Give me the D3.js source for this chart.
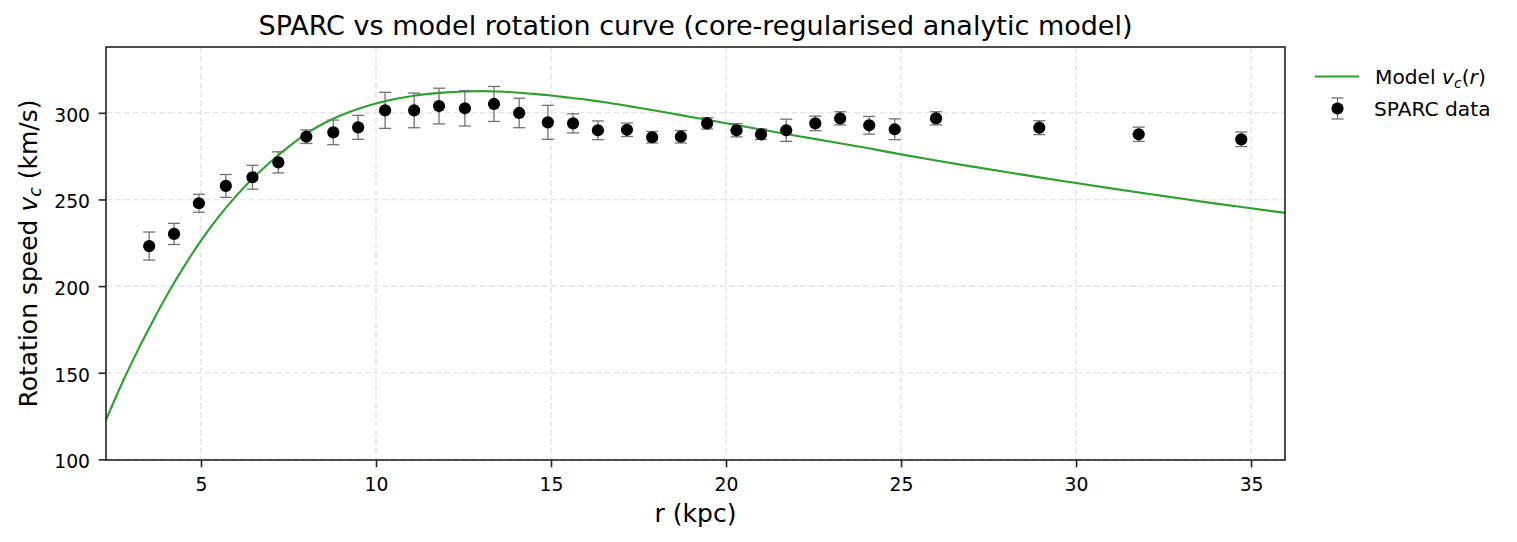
<!DOCTYPE html>
<html><head><meta charset="utf-8">
<script src="https://cdn.jsdelivr.net/npm/d3@7"></script>
<style>
html,body{margin:0;padding:0;background:#fff;}
text{font-family:"DejaVu Sans",sans-serif;fill:#000;}
</style></head>
<body>
<svg id="chart" width="1517" height="542"></svg>
<script>
// SPARC data
const dataR = [3.52,4.23,4.94,5.71,6.47,7.21,8.01,8.78,9.49,10.26,11.09,11.8,12.54,13.37,14.09,14.91,15.63,16.34,17.17,17.89,18.71,19.46,20.3,21.0,21.72,22.55,23.26,24.09,24.82,26.0,28.95,31.79,34.72];
const dataV = [223.1,230.1,247.8,257.8,262.8,271.4,286.2,288.7,291.6,301.4,301.4,303.9,302.6,305.1,299.9,294.5,293.9,289.9,290.2,285.9,286.2,293.9,289.9,287.6,289.9,293.9,296.8,292.8,290.5,296.8,291.4,287.6,284.7];
const dataErr = [8.1,6.1,5.2,6.6,6.9,6.1,3.9,7.1,6.9,10.4,10.0,10.3,10.2,10.1,8.5,9.8,5.5,5.4,3.9,3.3,3.6,3.3,3.8,3.0,6.4,4.2,3.8,5.1,6.0,3.8,4.0,4.1,4.2];
// Model curve samples
const modelR = [2.29,2.8,3.2,3.6,4.07,4.5,5.0,5.5,6.0,6.47,7.0,7.5,8.0,8.5,9.0,9.5,10.0,10.5,11.0,11.5,12.0,12.5,13.0,13.5,14.0,14.5,15.0,15.5,16.0,16.5,17.0,17.5,18.0,18.5,19.0,19.5,20.0,21.0,22.0,23.0,24.0,25.0,26.0,27.0,28.0,29.0,30.0,31.0,32.0,33.0,34.0,35.0,36.0];
const modelV = [123,146.4,163.2,178.9,196.3,210.8,226.2,239.9,251.9,261.9,271.9,280.3,287.8,293.8,298.6,302.4,305.4,307.8,309.6,310.9,311.8,312.3,312.5,312.3,311.7,310.9,310.0,308.8,307.6,306.2,304.6,302.9,301.2,299.4,297.6,295.8,294.0,290.4,286.8,283.3,279.8,276.0,272.5,269.1,265.8,262.6,259.5,256.4,253.4,250.5,247.6,244.9,242.2];
const xTicks = [5,10,15,20,25,30,35];
const yTicks = [100,150,200,250,300];

const svg = d3.select("#chart");
const L = 106, T = 47, R = 1285, B = 460;
const x = d3.scaleLinear().domain([2.286, 35.97]).range([L, R]);
const y = d3.scaleLinear().domain([99.65, 337.97]).range([B, T]);

svg.append("rect").attr("width",1517).attr("height",542).attr("fill","#fff");

svg.append("defs").append("clipPath").attr("id","clip")
  .append("rect").attr("x",L).attr("y",T).attr("width",R-L).attr("height",B-T);

// grid
const grid = svg.append("g");
grid.selectAll("line.gx").data(xTicks).join("line")
  .attr("x1",d=>x(d)).attr("x2",d=>x(d)).attr("y1",T).attr("y2",B)
  .attr("stroke","#e8e8e8").attr("stroke-width",1.6).attr("stroke-dasharray","6.2,2.7");
grid.selectAll("line.gy").data(yTicks).join("line")
  .attr("y1",d=>y(d)).attr("y2",d=>y(d)).attr("x1",L).attr("x2",R)
  .attr("stroke","#e8e8e8").attr("stroke-width",1.6).attr("stroke-dasharray","6.2,2.7");

// axes
const xAxis = d3.axisBottom(x).tickValues(xTicks).tickSize(7.3).tickPadding(7).tickFormat(d3.format("d"));
const yAxis = d3.axisLeft(y).tickValues(yTicks).tickSize(7.3).tickPadding(7).tickFormat(d3.format("d"));
const gx = svg.append("g").attr("transform",`translate(0,${B})`).call(xAxis);
const gy = svg.append("g").attr("transform",`translate(${L},0)`).call(yAxis);
[gx,gy].forEach(g=>{
  g.select(".domain").remove();
  g.selectAll(".tick line").attr("stroke","#222").attr("stroke-width",1.6);
  g.selectAll(".tick text").attr("font-size","18.75px").attr("font-family","DejaVu Sans").attr("fill","#000");
});
gx.selectAll(".tick text").attr("dy",null).attr("y",31);
gy.selectAll(".tick text").attr("dy",null).attr("y",8.5).attr("x",-16);

// model curve
svg.append("path").datum(modelR.map((r,i)=>[r,modelV[i]]))
  .attr("clip-path","url(#clip)")
  .attr("fill","none").attr("stroke","#2ca02c").attr("stroke-width",2.1)
  .attr("d", d3.line().x(d=>x(d[0])).y(d=>y(d[1])).curve(d3.curveMonotoneX));

// error bars + points
const pts = dataR.map((r,i)=>({r, v:dataV[i], e:dataErr[i]}));
const eb = svg.append("g").attr("stroke","#727272").attr("stroke-width",1.3);
eb.selectAll("line.v").data(pts).join("line")
  .attr("x1",d=>x(d.r)).attr("x2",d=>x(d.r)).attr("y1",d=>y(d.v-d.e)).attr("y2",d=>y(d.v+d.e));
eb.selectAll("line.t").data(pts).join("line")
  .attr("x1",d=>x(d.r)-6).attr("x2",d=>x(d.r)+6).attr("y1",d=>y(d.v+d.e)).attr("y2",d=>y(d.v+d.e));
eb.selectAll("line.b").data(pts).join("line")
  .attr("x1",d=>x(d.r)-6).attr("x2",d=>x(d.r)+6).attr("y1",d=>y(d.v-d.e)).attr("y2",d=>y(d.v-d.e));
svg.append("g").selectAll("circle").data(pts).join("circle")
  .attr("cx",d=>x(d.r)).attr("cy",d=>y(d.v)).attr("r",6.1).attr("fill","#000");

// frame
svg.append("rect").attr("x",L).attr("y",T).attr("width",R-L).attr("height",B-T)
  .attr("fill","none").attr("stroke","#222").attr("stroke-width",1.6);

// title
svg.append("text").attr("x",(L+R)/2).attr("y",34.5).attr("text-anchor","middle")
  .attr("font-size","27px").text("SPARC vs model rotation curve (core-regularised analytic model)");

// x label
svg.append("text").attr("x",(L+R)/2).attr("y",522).attr("text-anchor","middle")
  .attr("font-size","25px").text("r (kpc)");

// y label
const yl = svg.append("text").attr("transform",`translate(37,${(T+B)/2}) rotate(-90)`)
  .attr("text-anchor","middle").attr("font-size","25px");
yl.append("tspan").text("Rotation speed ");
yl.append("tspan").attr("font-style","italic").text("v");
yl.append("tspan").attr("font-style","italic").attr("font-size","17.5px").attr("dy",4).text("c");
yl.append("tspan").attr("dy",-4).text(" (km/s)");

// legend
const lg = svg.append("g");
lg.append("line").attr("x1",1315).attr("x2",1359).attr("y1",76.5).attr("y2",76.5)
  .attr("stroke","#2ca02c").attr("stroke-width",2.1);
const lt = lg.append("text").attr("x",1375).attr("y",84).attr("font-size","20.2px");
lt.append("tspan").text("Model ");
lt.append("tspan").attr("font-style","italic").text("v");
lt.append("tspan").attr("font-style","italic").attr("font-size","14px").attr("dy",3.5).text("c");
lt.append("tspan").attr("dy",-3.5).text("(");
lt.append("tspan").attr("font-style","italic").text("r");
lt.append("tspan").text(")");
lg.append("line").attr("x1",1337.5).attr("x2",1337.5).attr("y1",98).attr("y2",119).attr("stroke","#727272").attr("stroke-width",1.3);
lg.append("line").attr("x1",1331.5).attr("x2",1343.5).attr("y1",98).attr("y2",98).attr("stroke","#727272").attr("stroke-width",1.3);
lg.append("line").attr("x1",1331.5).attr("x2",1343.5).attr("y1",119).attr("y2",119).attr("stroke","#727272").attr("stroke-width",1.3);
lg.append("circle").attr("cx",1337.5).attr("cy",108.5).attr("r",6.1).attr("fill","#000");
lg.append("text").attr("x",1374).attr("y",116).attr("font-size","20.2px").text("SPARC data");
</script>
</body></html>
